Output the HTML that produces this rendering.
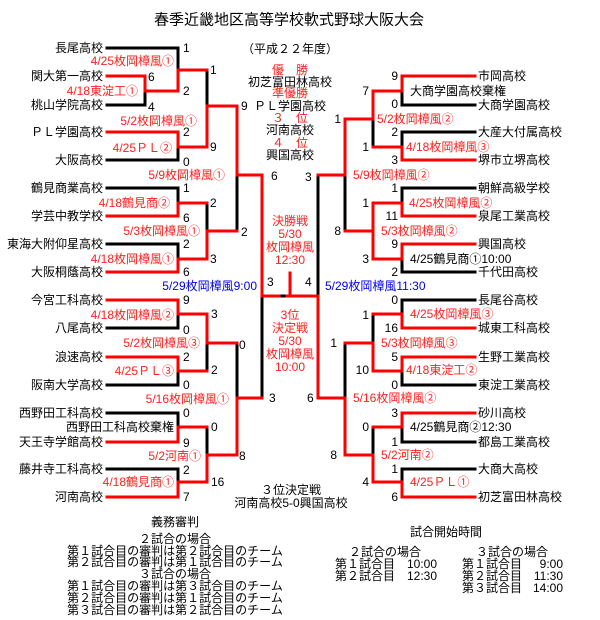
<!DOCTYPE html>
<html><head><meta charset="utf-8"><style>
html,body{margin:0;padding:0;background:#fff;}
svg{display:block;}
text{font-family:"Liberation Sans","Noto Sans CJK JP",sans-serif;font-size:12px;dominant-baseline:central;}
.r{fill:#ff2020;} .b{fill:#0000ee;} .k{fill:#000;}
.e{text-anchor:end;} .m{text-anchor:middle;}
</style></head><body>
<svg width="600" height="620" viewBox="0 0 600 620" xmlns="http://www.w3.org/2000/svg">
<g stroke="#000" stroke-width="3" stroke-linecap="square" fill="none">
<path d="M107 48H178V70M107 105H145V91M107 160H178V147M207 70V106M237 175V231M107 188H178V203M107 244H178V259M207 203V231M262 296V398M107 328H178V314M107 385H178V371M207 343V371M237 343V398M107 413H178V427M107 469H178V482M207 427V455M279 296H287M318 175V296M475 105H402V91M475 132H402V147M373 119V147M345 175V231M475 188H402V203M475 272H402V259M475 300H402V314M475 385H402V371M373 314V343M345 343V398M475 442H402V427M475 469H402V482M373 427V455"/>
</g>
<g stroke="#ff0000" stroke-width="3" stroke-linecap="square" fill="none">
<path d="M107 76H145V91H178V70H207M178 70V91M107 132H178V147H207M207 106V147M207 106H237V175H262V296M107 216H178V203H207M107 272H178V259H207M207 231V259M207 231H237M107 300H178V314H207M107 357H178V371H207M207 314V343H237M237 398V455M237 398H262M107 442H178V427H207M107 497H178V482H207M207 455V482M207 455H237M262 296H279M287 296H318V398H345M290 273V296M318 175H345V119H373V91H402V76H475M373 147H402V160H475M345 231H373V203H402V216H475M373 231V259H402V244H475M475 328H402V314H373M475 357H402V371H373M373 343V371M345 343H373M345 398V455H373V482H402V497H475M475 413H402V427H373"/>
</g>
<text x="289" y="20" class="m k" style="font-size:15px">春季近畿地区高等学校軟式野球大阪大会</text>
<text x="290" y="49" class="m k">（平成２２年度）</text>
<text x="290" y="70" class="m r">優　勝</text>
<text x="290" y="82" class="m k">初芝富田林高校</text>
<text x="290" y="93" class="m r">準優勝</text>
<text x="290" y="106" class="m k">ＰＬ学園高校</text>
<text x="290" y="118" class="m r">３　位</text>
<text x="290" y="130" class="m k">河南高校</text>
<text x="290" y="143" class="m r">４　位</text>
<text x="290" y="155" class="m k">興国高校</text>
<g class="r">
<text x="290" y="221" class="m">決勝戦</text><text x="290" y="234" class="m">5/30</text><text x="290" y="247" class="m">枚岡樟風</text><text x="290" y="260" class="m">12:30</text>
<text x="290" y="315" class="m">3位</text><text x="290" y="328" class="m">決定戦</text><text x="290" y="341" class="m">5/30</text><text x="290" y="354" class="m">枚岡樟風</text><text x="290" y="367" class="m">10:00</text>
</g>
<g class="k e">
<text x="103" y="48">長尾高校</text><text x="103" y="76">関大第一高校</text><text x="103" y="105">桃山学院高校</text><text x="103" y="132">ＰＬ学園高校</text><text x="103" y="160">大阪高校</text><text x="103" y="188">鶴見商業高校</text><text x="103" y="216">学芸中教学校</text><text x="103" y="244">東海大附仰星高校</text><text x="103" y="272">大阪桐蔭高校</text><text x="103" y="300">今宮工科高校</text><text x="103" y="328">八尾高校</text><text x="103" y="357">浪速高校</text><text x="103" y="385">阪南大学高校</text><text x="103" y="413">西野田工科高校</text><text x="103" y="442">天王寺学館高校</text><text x="103" y="469">藤井寺工科高校</text><text x="103" y="497">河南高校</text>
<text x="174" y="427">西野田工科高校棄権</text>
</g>
<g class="k">
<text x="478" y="76">市岡高校</text><text x="478" y="105">大商学園高校</text><text x="478" y="132">大産大付属高校</text><text x="478" y="160">堺市立堺高校</text><text x="478" y="188">朝鮮高級学校</text><text x="478" y="216">泉尾工業高校</text><text x="478" y="244">興国高校</text><text x="478" y="272">千代田高校</text><text x="478" y="300">長尾谷高校</text><text x="478" y="328">城東工科高校</text><text x="478" y="357">生野工業高校</text><text x="478" y="385">東淀工業高校</text><text x="478" y="413">砂川高校</text><text x="478" y="442">都島工業高校</text><text x="478" y="469">大商大高校</text><text x="478" y="497">初芝富田林高校</text>
<text x="410" y="91">大商学園高校棄権</text><text x="410" y="259">4/25鶴見商①10:00</text><text x="410" y="427">4/25鶴見商②12:30</text>
</g>
<g class="r e">
<text x="174" y="61">4/25枚岡樟風①</text><text x="138" y="91">4/18東淀工①</text><text x="197" y="121">5/2枚岡樟風①</text><text x="172" y="148">4/25ＰＬ②</text><text x="225" y="175">5/9枚岡樟風①</text><text x="170" y="203">4/18鶴見商②</text><text x="200" y="231">5/3枚岡樟風①</text><text x="174" y="259">4/18枚岡樟風①</text><text x="174" y="315">4/18枚岡樟風②</text><text x="200" y="343">5/2枚岡樟風③</text><text x="174" y="371">4/25ＰＬ③</text><text x="229" y="399">5/16枚岡樟風①</text><text x="201" y="456">5/2河南①</text><text x="174" y="482">4/18鶴見商①</text>
</g>
<text x="257" y="286" class="b e">5/29枚岡樟風9:00</text>
<text x="325" y="286" class="b">5/29枚岡樟風11:30</text>
<g class="r">
<text x="377" y="119">5/2枚岡樟風②</text><text x="406" y="147">4/18枚岡樟風③</text><text x="353" y="175">5/9枚岡樟風②</text><text x="409" y="203">4/25枚岡樟風②</text><text x="381" y="231">5/3枚岡樟風②</text><text x="410" y="314">4/25枚岡樟風③</text><text x="381" y="343">5/3枚岡樟風③</text><text x="406" y="370">4/18東淀工②</text><text x="353" y="398">5/16枚岡樟風②</text><text x="381" y="455">5/2河南②</text><text x="410" y="482">4/25ＰＬ①</text>
</g>
<g class="k">
<text x="183" y="48">1</text><text x="148" y="77">6</text><text x="148" y="107">4</text><text x="183" y="91">2</text><text x="210" y="70">1</text><text x="210" y="147">9</text><text x="183" y="132">2</text><text x="183" y="162">0</text><text x="241" y="106">9</text><text x="271" y="176">6</text><text x="183" y="188">1</text><text x="183" y="218">6</text><text x="210" y="203">2</text><text x="210" y="259">3</text><text x="183" y="244">2</text><text x="183" y="272">6</text><text x="241" y="232">2</text>
<text x="267" y="282">3</text><text x="305" y="282">4</text><text x="305" y="177">3</text><text x="269" y="398">3</text><text x="307" y="398">6</text>
<text x="183" y="300">9</text><text x="183" y="330">0</text><text x="211" y="314">3</text><text x="183" y="357">2</text><text x="183" y="385">0</text><text x="211" y="370">2</text><text x="239" y="345">0</text><text x="183" y="413">0</text><text x="183" y="443">9</text><text x="211" y="427">0</text><text x="183" y="470">2</text><text x="183" y="497">7</text><text x="211" y="482">16</text><text x="239" y="456">8</text>
</g>
<g class="k e">
<text x="398" y="76">9</text><text x="398" y="104">0</text><text x="398" y="132">2</text><text x="398" y="160">3</text><text x="398" y="188">1</text><text x="398" y="216">11</text><text x="398" y="244">9</text><text x="398" y="272">2</text><text x="398" y="300">0</text><text x="398" y="328">16</text><text x="398" y="357">5</text><text x="398" y="385">0</text><text x="398" y="413">3</text><text x="398" y="442">1</text><text x="398" y="469">1</text><text x="398" y="497">6</text>
<text x="369" y="91">7</text><text x="369" y="147">1</text><text x="369" y="203">1</text><text x="369" y="259">3</text><text x="369" y="315">1</text><text x="369" y="370">10</text><text x="369" y="427">0</text><text x="369" y="482">4</text>
<text x="341" y="119">1</text><text x="341" y="231">8</text><text x="337" y="343">1</text><text x="337" y="455">8</text>
</g>
<g class="k m">
<text x="291" y="490">３位決定戦</text><text x="291" y="503">河南高校5-0興国高校</text>
<text x="175" y="522">義務審判</text>
<text x="175" y="539">２試合の場合</text>
<text x="175" y="551">第１試合目の審判は第２試合目のチーム</text>
<text x="175" y="562">第２試合目の審判は第１試合目のチーム</text>
<text x="175" y="574">３試合の場合</text>
<text x="175" y="586">第１試合目の審判は第３試合目のチーム</text>
<text x="175" y="598">第２試合目の審判は第１試合目のチーム</text>
<text x="175" y="610">第３試合目の審判は第２試合目のチーム</text>
<text x="446" y="532">試合開始時間</text>
<text x="385" y="552">２試合の場合</text>
<text x="512" y="552">３試合の場合</text>
</g>
<g class="k">
<text x="335" y="564">第１試合目</text><text x="437" y="564" class="e">10:00</text>
<text x="335" y="576">第２試合目</text><text x="437" y="576" class="e">12:30</text>
<text x="462" y="564">第１試合目</text><text x="563" y="564" class="e">9:00</text>
<text x="462" y="576">第２試合目</text><text x="563" y="576" class="e">11:30</text>
<text x="462" y="588">第３試合目</text><text x="563" y="588" class="e">14:00</text>
</g>
</svg>
</body></html>
